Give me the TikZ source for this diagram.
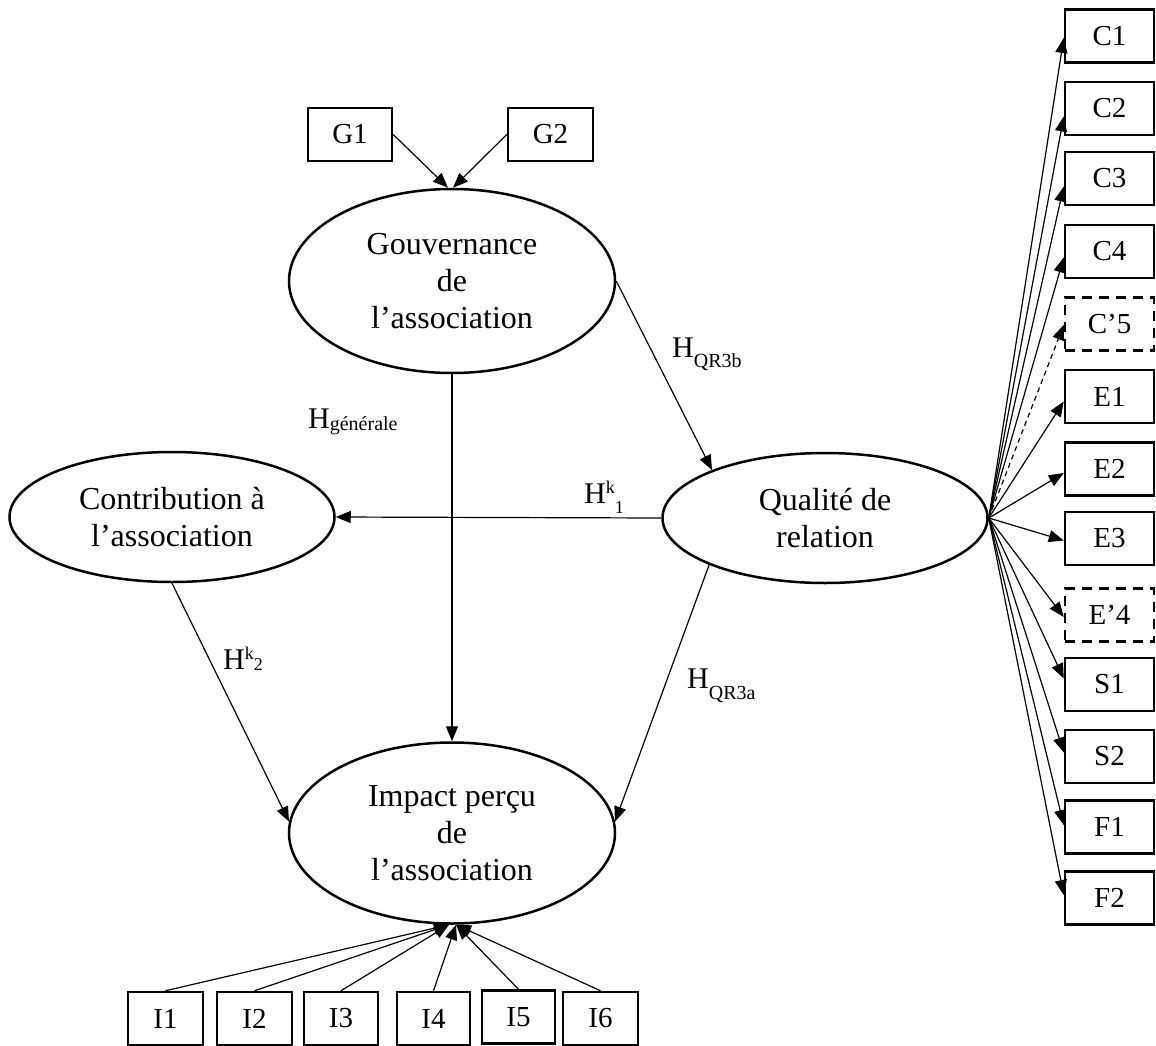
\documentclass[tikz,border=0pt]{standalone}
\usepackage{fontspec}
\setmainfont{Liberation Serif}
\usetikzlibrary{shapes.geometric,arrows.meta,calc}

\newcommand\ftEll{\fontsize{32}{37}\selectfont}
\newcommand\ftBox{\fontsize{29}{29}\selectfont}
\newcommand\ftLab{\fontsize{30}{30}\selectfont}
\newcommand\ftSub{\fontsize{20}{20}\selectfont}
\newcommand\ftSup{\fontsize{18}{18}\selectfont}

\begin{document}
\begin{tikzpicture}[x=1pt,y=-1pt,
  latent/.style={ellipse,draw,line width=2.5pt,inner sep=0pt,align=center,font=\ftEll},
  indic/.style={rectangle,draw,line width=2.5pt,inner sep=0pt,minimum width=#1,minimum height=53pt,font=\ftBox},
  indic/.default=89pt,
  dashbox/.style={dash pattern=on 10pt off 7pt},
  lab/.style={anchor=base west,inner sep=0pt},
  conn/.style={line width=1.2pt,-{Triangle[length=15pt,width=12pt]}},
]
\useasboundingbox (0,0) rectangle (1156,1046);

% latent constructs
\node[latent,minimum width=326pt,minimum height=184pt] (gov) at (452,281) {Gouvernance\\de\\l’association};
\node[latent,minimum width=325pt,minimum height=130pt] (contrib) at (172,517) {Contribution à\\l’association};
\node[latent,minimum width=325pt,minimum height=130pt] (qual) at (825,518) {Qualité de\\relation};
\node[latent,minimum width=326pt,minimum height=181pt] (impact) at (452,833) {Impact perçu\\de\\l’association};

% governance indicators
\node[indic=84pt] (g1) at (350,134.5) {G1};
\node[indic=85pt] (g2) at (550.5,134.5) {G2};

% relationship quality indicators
\node[indic] (c1) at (1109.5,36) {C1};
\node[indic] (c2) at (1109.5,108.5) {C2};
\node[indic] (c3) at (1109.5,178.5) {C3};
\node[indic] (c4) at (1109.5,251.5) {C4};
\node[indic,dashbox] (c5) at (1109.5,324) {C’5};
\node[indic] (e1) at (1109.5,396.5) {E1};
\node[indic] (e2) at (1109.5,469) {E2};
\node[indic] (e3) at (1109.5,538.5) {E3};
\node[indic,dashbox] (e4) at (1109.5,615) {E’4};
\node[indic] (s1) at (1109.5,684.5) {S1};
\node[indic] (s2) at (1109.5,756.5) {S2};
\node[indic] (f1) at (1109.5,827) {F1};
\node[indic] (f2) at (1109.5,898) {F2};

% impact indicators
\node[indic=75pt] (i1) at (165.5,1018.5) {I1};
\node[indic=75pt] (i2) at (254.5,1018.5) {I2};
\node[indic=74pt] (i3) at (341,1018.5) {I3};
\node[indic=73pt] (i4) at (433.5,1018.5) {I4};
\node[indic=73pt] (i5) at (518.5,1017) {I5};
\node[indic=75pt] (i6) at (600.5,1018.5) {I6};

% arrival points
\coordinate (govL) at ($(gov.north)+(-4,0)$);
\coordinate (govR) at ($(gov.north)+(1,0)$);
\coordinate (impL) at ($(impact.south)+(-3,0)$);
\coordinate (impR) at ($(impact.south)+(4,0)$);

% structural paths
\draw[conn] (g1.east) -- (govL);
\draw[conn] (g2.west) -- (govR);
\draw[conn] (gov.south) -- (impact.north);
\draw[conn] (gov.east) -- (qual.157);
\draw[conn] (qual.west) -- (contrib.east);
\draw[conn] (contrib.south) -- (impact.176);
\draw[conn] (qual.202) -- (impact.4);

% impact indicators to construct
\foreach \n in {i1,i2,i3} \draw[conn] (\n.north) -- (impL);
\foreach \n in {i4,i5,i6} \draw[conn] (\n.north) -- (impR);

% relationship quality fan
\foreach \n/\d in {c1/2,c2/8,c3/8,c4/6,e1/5,e2/4,e3/2,e4/2,s1/-6,s2/-4,f1/-2,f2/-3}
  \draw[conn] (qual.east) -- ($(\n.west)+(0,\d)$);
\draw[conn,dash pattern=on 5pt off 4pt] (qual.east) -- ($(c5.west)+(0,1)$);

% hypothesis labels
\node[lab] (hqr3b) at (672,357) {\ftLab H\raisebox{-10pt}{\ftSub QR3b}};
\node[lab] (hgen) at (308,428) {\ftLab H\raisebox{-2pt}{\ftSub générale}};
\node[lab] (hk1) at (584,503) {\ftLab H\raisebox{10pt}{\ftSup k}\raisebox{-10pt}{\ftSup 1}};
\node[lab] (hk2) at (223,669) {\ftLab H\raisebox{10pt}{\ftSup k}\raisebox{-1pt}{\ftSup 2}};
\node[lab] (hqr3a) at (687,688) {\ftLab H\raisebox{-11pt}{\ftSub QR3a}};
\end{tikzpicture}
\end{document}
